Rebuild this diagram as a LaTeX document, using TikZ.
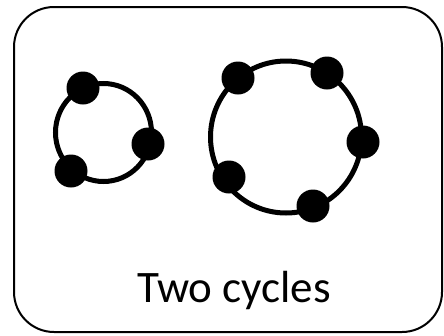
\documentclass[tikz,border=0pt]{standalone}
\usepackage{fontspec}
\setmainfont{Carlito}
\tikzset{
  dot/.style={circle,fill=black,inner sep=0pt,minimum size=33pt},
  ring/.style={line width=5pt,draw=black},
  frame/.style={line width=2pt,draw=black,rounded corners=40pt}
}
\begin{document}
\begin{tikzpicture}[x=1pt,y=-1pt]
\useasboundingbox (0,0) rectangle (444,335);
\draw[frame] (14,7) rectangle (442,332);
% small cycle
\draw[ring] (103.5,132.5) ellipse (48pt and 49pt);
\node[dot] (a1) at (83,88) {};
\node[dot] (a2) at (148,144) {};
\node[dot] (a3) at (71,171) {};
% large cycle
\draw[ring] (286,137) ellipse (75.5pt and 76pt);
\node[dot] (b1) at (238,78) {};
\node[dot] (b2) at (327,73) {};
\node[dot] (b3) at (363,142) {};
\node[dot] (b4) at (229,177) {};
\node[dot] (b5) at (313,206) {};
\node[anchor=base,font=\fontsize{45pt}{54pt}\selectfont,inner sep=0pt] (lbl) at (234,302) {Two cycles};
\end{tikzpicture}
\end{document}
